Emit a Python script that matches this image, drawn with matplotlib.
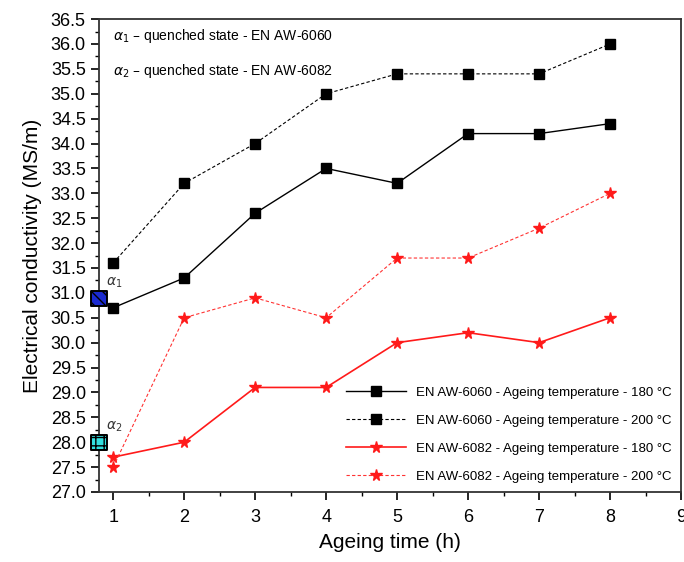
import numpy as np
import matplotlib
matplotlib.use("Agg")
import matplotlib.pyplot as plt
from matplotlib.ticker import MultipleLocator

plt.rcParams['font.family'] = ['Liberation Sans', 'DejaVu Sans']
plt.rcParams['hatch.color'] = 'white'

# data
hours = [1, 2, 3, 4, 5, 6, 7, 8]
aw6060_180 = [30.7, 31.3, 32.6, 33.5, 33.2, 34.2, 34.2, 34.4]
aw6060_200 = [31.6, 33.2, 34.0, 35.0, 35.4, 35.4, 35.4, 36.0]
aw6082_180 = [27.7, 28.0, 29.1, 29.1, 30.0, 30.2, 30.0, 30.5]
aw6082_200 = [27.5, 30.5, 30.9, 30.5, 31.7, 31.7, 32.3, 33.0]
quenched_x = 0.8
alpha1_val = 30.88
alpha2_val = 28.0

fig = plt.figure(figsize=(6.84, 5.62), dpi=100)
ax = fig.add_axes([0.1447, 0.1246, 0.851, 0.8414])

ax.plot(hours, aw6060_180, '-', color='black', lw=1.0, marker='s', ms=7,
        label='EN AW-6060 - Ageing temperature - 180 °C')
ax.plot(hours, aw6060_200, '--', color='black', lw=0.8, dashes=(3, 2), marker='s', ms=7,
        label='EN AW-6060 - Ageing temperature - 200 °C')
ax.plot(hours, aw6082_180, '-', color='#ff1a1a', lw=1.2, marker='*', ms=8.5,
        label='EN AW-6082 - Ageing temperature - 180 °C')
ax.plot(hours, aw6082_200, '--', color='#ff3333', lw=0.8, dashes=(3, 2), marker='*', ms=8.5,
        markerfacecolor='#ff1a1a', markeredgecolor='#ff1a1a',
        label='EN AW-6082 - Ageing temperature - 200 °C')

# quenched state markers
ax.scatter([quenched_x], [alpha1_val], s=120, marker='s', facecolor='#1a2ad0',
           edgecolor='black', linewidth=1.4, hatch='\\\\\\', zorder=5, clip_on=False)
ax.scatter([quenched_x], [alpha2_val], s=120, marker='s', facecolor='#33e0e0',
           edgecolor='black', linewidth=1.4, hatch='++', zorder=5, clip_on=False)
ax.text(0.9, 31.15, r'$\alpha_1$', fontsize=10, color='#333333')
ax.text(0.9, 28.25, r'$\alpha_2$', fontsize=10, color='#333333')

ax.text(1.0, 36.17, r'$\alpha_1$ – quenched state - EN AW-6060', fontsize=10, va='center')
ax.text(1.0, 35.45, r'$\alpha_2$ – quenched state - EN AW-6082', fontsize=10, va='center')

ax.set_xlim(0.8, 9)
ax.set_ylim(27.0, 36.5)
ax.xaxis.set_major_locator(MultipleLocator(1))
ax.xaxis.set_minor_locator(MultipleLocator(0.5))
ax.yaxis.set_major_locator(MultipleLocator(0.5))
ax.yaxis.set_minor_locator(MultipleLocator(0.25))
ax.yaxis.set_major_formatter(matplotlib.ticker.FormatStrFormatter('%.1f'))
ax.tick_params(which='major', length=6, width=1.2, labelsize=13)
ax.tick_params(axis='x', which='major', pad=6)
ax.tick_params(which='minor', length=3, width=1.0)
for s in ax.spines.values():
    s.set_linewidth(1.3)
    s.set_color('#333333')

ax.set_xlabel('Ageing time (h)', fontsize=15, labelpad=5)
ax.set_ylabel('Electrical conductivity (MS/m)', fontsize=15, labelpad=6)

ax.legend(loc='lower right', frameon=False, fontsize=9.5, handlelength=4.5,
          labelspacing=1.2, borderaxespad=0.3)

fig.savefig('out.png', dpi=100)
